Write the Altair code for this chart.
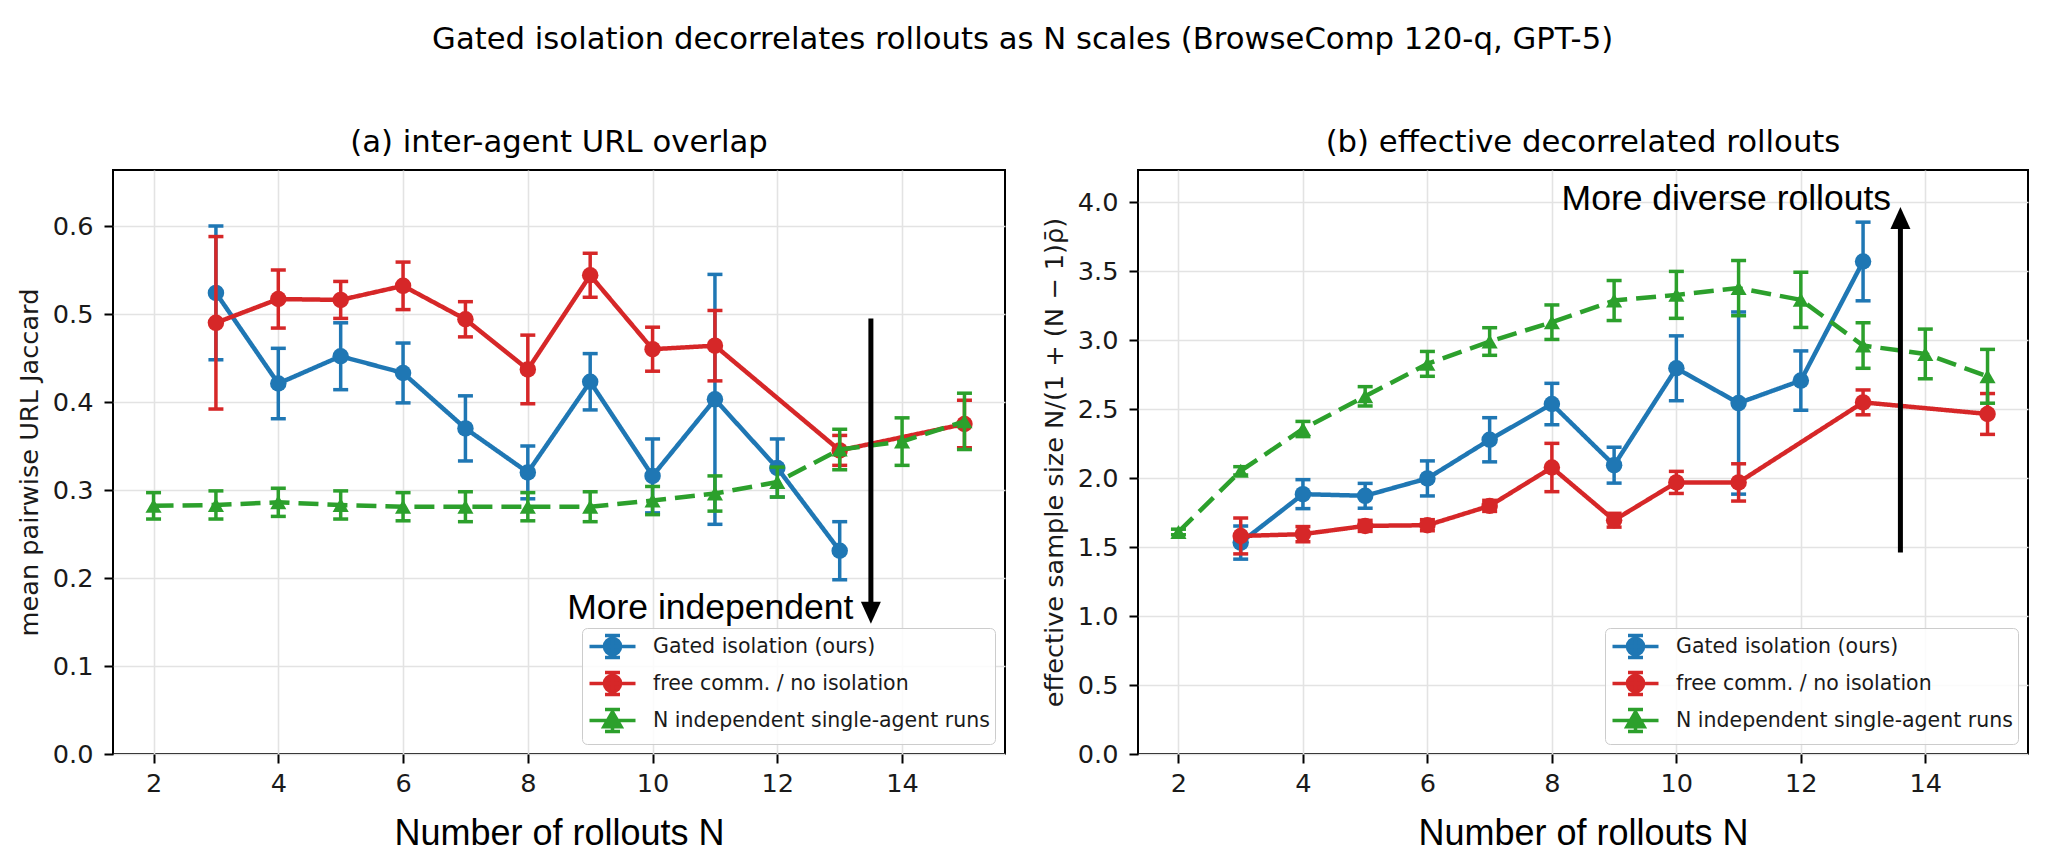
import altair as alt
import pandas as pd

SERIES = ["Gated isolation (ours)", "free comm. / no isolation", "N independent single-agent runs"]
COLORS = ["#1f77b4", "#d62728", "#2ca02c"]

# x positions per series
N_gated = [3, 4, 5, 6, 7, 8, 9, 10, 11, 12, 13]
N_free = [3, 4, 5, 6, 7, 8, 9, 10, 11, 13, 15]
N_indep = [2, 3, 4, 5, 6, 7, 8, 9, 10, 11, 12, 13, 14, 15]

# (a) mean pairwise URL Jaccard
gated_url = [0.524, 0.421, 0.452, 0.433, 0.370, 0.320, 0.423, 0.316, 0.403, 0.325, 0.231]
gated_url_err = [0.076, 0.040, 0.038, 0.034, 0.037, 0.030, 0.032, 0.042, 0.142, 0.033, 0.033]
free_url = [0.490, 0.517, 0.516, 0.532, 0.494, 0.437, 0.544, 0.460, 0.464, 0.345, 0.375]
free_url_err = [0.098, 0.033, 0.021, 0.027, 0.020, 0.039, 0.025, 0.025, 0.040, 0.017, 0.027]
indep_url = [0.282, 0.283, 0.286, 0.283, 0.281, 0.281, 0.281, 0.281, 0.288, 0.296, 0.309, 0.346, 0.355, 0.378]
indep_url_err = [0.015, 0.016, 0.016, 0.016, 0.016, 0.017, 0.016, 0.017, 0.016, 0.020, 0.017, 0.023, 0.027, 0.032]

# (b) effective sample size
gated_ess = [1.532, 1.883, 1.871, 1.997, 2.277, 2.536, 2.093, 2.795, 2.543, 2.706, 3.569]
gated_ess_err = [0.12, 0.105, 0.09, 0.127, 0.16, 0.15, 0.13, 0.235, 0.66, 0.215, 0.285]
free_ess = [1.580, 1.593, 1.653, 1.658, 1.798, 2.076, 1.694, 1.968, 1.968, 2.548, 2.464]
free_ess_err = [0.13, 0.055, 0.04, 0.04, 0.04, 0.175, 0.05, 0.08, 0.135, 0.09, 0.148]
indep_ess = [1.609, 2.052, 2.355, 2.592, 2.827, 2.989, 3.129, 3.286, 3.327, 3.376, 3.291, 2.960, 2.899, 2.737]
indep_ess_err = [0.02, 0.03, 0.055, 0.07, 0.09, 0.10, 0.125, 0.145, 0.17, 0.20, 0.20, 0.165, 0.18, 0.195]

X_TICKS = [2, 4, 6, 8, 10, 12, 14]
Y_TICKS_A = [0.0, 0.1, 0.2, 0.3, 0.4, 0.5, 0.6]
Y_TICKS_B = [0.0, 0.5, 1.0, 1.5, 2.0, 2.5, 3.0, 3.5, 4.0]

# annotations: arrow tail/tip, head centre, text anchor
ann_a = {"x": 13.5, "tail": 0.495, "head": 0.1605, "tx": 13.22, "ty": 0.153, "text": "More independent", "dir": "down"}
ann_b = {"x": 13.6, "tail": 1.46, "head": 3.884, "tx": 13.45, "ty": 3.945, "text": "More diverse rollouts", "dir": "up"}

LEGEND_PATHS = [
    "M-2,0H2M0,-0.96V0.96M-0.65,-0.96H0.65M-0.65,0.96H0.65M0.7,0A0.7,0.7 0 1,1 -0.7,0A0.7,0.7 0 1,1 0.7,0Z",
    "M-2,0H2M0,-0.96V0.96M-0.65,-0.96H0.65M-0.65,0.96H0.65M0.7,0A0.7,0.7 0 1,1 -0.7,0A0.7,0.7 0 1,1 0.7,0Z",
    "M-2,0H2M0,-0.96V0.96M-0.65,-0.96H0.65M-0.65,0.96H0.65M0,-0.75L0.75,0.55L-0.75,0.55Z",
]
HEAD_DOWN = "M-1,-1.1L1,-1.1L0,1.1Z"
HEAD_UP = "M-1,1.1L1,1.1L0,-1.1Z"


def frame(ns, vals, errs, s):
    return pd.DataFrame({
        "N": ns, "v": vals,
        "lo": [v - e for v, e in zip(vals, errs)],
        "hi": [v + e for v, e in zip(vals, errs)],
        "series": s,
    })


def panel(frames, ymax, yticks, ytitle, title, ann, W, H):
    xs = alt.Scale(domain=[1.35, 15.65], nice=False, zero=False)
    ys = alt.Scale(domain=[0, ymax], nice=False, zero=False)
    xaxis = alt.Axis(values=X_TICKS, format="d", title="Number of rollouts N",
                     titleFont="Liberation Sans", titleFontSize=36, titleFontWeight="normal",
                     titleColor="black", titlePadding=20, labelPadding=8)
    yaxis = alt.Axis(values=yticks, format=".1f", title=ytitle, titlePadding=10, labelPadding=11)

    def X(f="N"):
        return alt.X(f + ":Q", scale=xs, axis=xaxis)

    def Y(f):
        return alt.Y(f + ":Q", scale=ys, axis=yaxis)

    layers = []
    for df, c, dash, shape, size in zip(frames, COLORS, [[1, 0], [1, 0], [20, 9]],
                                        ["circle", "circle", "triangle-up"], [272, 272, 260]):
        base = alt.Chart(df)
        layers.append(base.mark_line(strokeWidth=4.5, strokeDash=dash, color=c).encode(x=X(), y=Y("v")))
        layers.append(base.mark_rule(strokeWidth=3.5, color=c).encode(x=X(), y=Y("lo"), y2="hi:Q"))
        layers.append(base.mark_tick(orient="horizontal", size=15, thickness=3.5, opacity=1, color=c).encode(
            x=X(), y=Y("lo")))
        layers.append(base.mark_tick(orient="horizontal", size=15, thickness=3.5, opacity=1, color=c).encode(
            x=X(), y=Y("hi")))
        layers.append(base.mark_point(shape=shape, filled=True, size=size, opacity=1, color=c).encode(
            x=X(), y=Y("v")))

    adf = pd.DataFrame([ann])
    ab = alt.Chart(adf)
    layers.append(ab.mark_rule(strokeWidth=5, color="black").encode(x=X("x"), y=Y("tail"), y2="head:Q"))
    layers.append(ab.mark_point(shape=HEAD_DOWN if ann["dir"] == "down" else HEAD_UP,
                                filled=True, size=400, opacity=1, color="black").encode(x=X("x"), y=Y("head")))
    layers.append(ab.mark_text(font="Liberation Sans", fontSize=35.5, align="right",
                               baseline="alphabetic", color="black").encode(x=X("tx"), y=Y("ty"), text="text:N"))

    # legend-only layer (no marks drawn: all rows filtered out)
    leg = (alt.Chart(pd.DataFrame({"series": SERIES}))
           .transform_filter("false")
           .mark_point(filled=True, opacity=1)
           .encode(
               fill=alt.Fill("series:N", scale=alt.Scale(domain=SERIES, range=COLORS), legend=alt.Legend(title=None)),
               stroke=alt.Stroke("series:N", scale=alt.Scale(domain=SERIES, range=COLORS), legend=alt.Legend(title=None)),
               shape=alt.Shape("series:N", scale=alt.Scale(domain=SERIES, range=LEGEND_PATHS), legend=alt.Legend(title=None)),
           ))
    layers.append(leg)

    return alt.layer(*layers).properties(
        width=W, height=H,
        title=alt.TitleParams(title, font="DejaVu Sans", fontSize=30.7, fontWeight="normal",
                              color="black", offset=11, anchor="middle"),
    )


left = panel(
    [frame(N_gated, gated_url, gated_url_err, SERIES[0]),
     frame(N_free, free_url, free_url_err, SERIES[1]),
     frame(N_indep, indep_url, indep_url_err, SERIES[2])],
    584 / 880, Y_TICKS_A, "mean pairwise URL Jaccard", "(a) inter-agent URL overlap", ann_a, 892, 584)

right = panel(
    [frame(N_gated, gated_ess, gated_ess_err, SERIES[0]),
     frame(N_free, free_ess, free_ess_err, SERIES[1]),
     frame(N_indep, indep_ess, indep_ess_err, SERIES[2])],
    584 / 138, Y_TICKS_B, "effective sample size  N/(1 + (N \u2212 1)\u03c1\u0304)",
    "(b) effective decorrelated rollouts", ann_b, 890, 584)

chart = (
    alt.hconcat(left, right, spacing=35)
    .resolve_scale(fill="independent", stroke="independent", shape="independent")
    .resolve_legend(fill="independent", stroke="independent", shape="independent")
    .properties(
        title=alt.TitleParams("Gated isolation decorrelates rollouts as N scales (BrowseComp 120-q, GPT-5)",
                              font="DejaVu Sans", fontSize=30.7, fontWeight="normal", color="black",
                              offset=71, anchor="middle"),
        padding={"left": 16, "top": 23, "right": 5, "bottom": 5},
        background="white",
    )
    .configure_view(stroke="black", strokeWidth=2)
    .configure_axis(
        domain=False, tickColor="black", tickWidth=2, tickSize=9,
        labelFont="DejaVu Sans", labelFontSize=25.6, labelColor="#1a1a1a",
        titleFont="DejaVu Sans", titleFontSize=25.6, titleFontWeight="normal", titleColor="#1a1a1a",
        grid=True, gridColor="#e3e3e3", gridWidth=1.6,
    )
    .configure_legend(
        orient="bottom-right", offset=10, padding=5, rowPadding=0,
        symbolSize=529, symbolStrokeWidth=3.5, symbolOffset=12, labelOffset=27,
        labelFont="DejaVu Sans", labelFontSize=20.5, labelColor="#1a1a1a", labelLimit=0,
        fillColor="rgba(255,255,255,0.85)", strokeColor="#cccccc", cornerRadius=5,
    )
)

chart.save("out.html", embed_options={"renderer": "svg", "actions": False})
